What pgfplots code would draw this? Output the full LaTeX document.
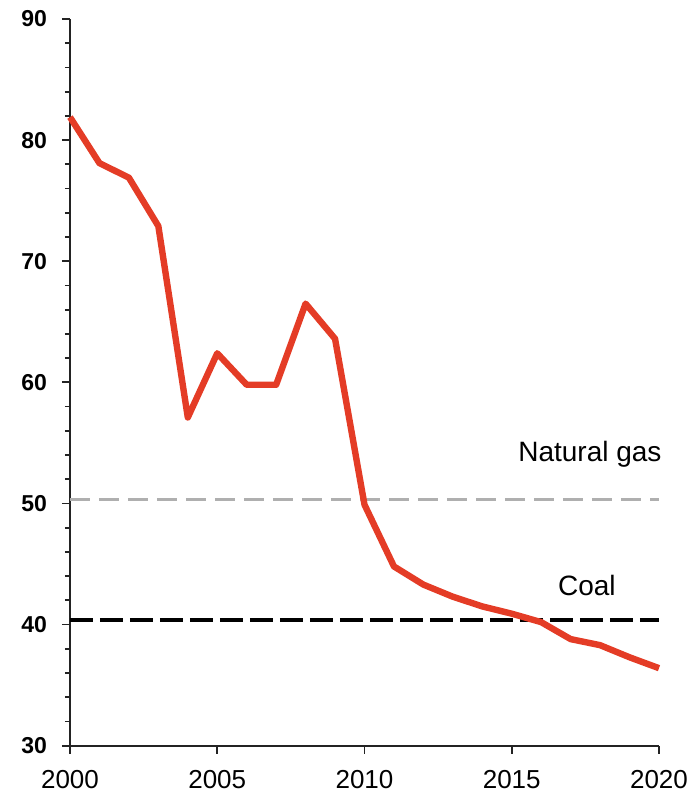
\documentclass[border=0pt]{standalone}
\usepackage{fontspec}
\setmainfont{Liberation Sans}
\usepackage{pgfplots}
\pgfplotsset{compat=1.18}
\definecolor{linered}{RGB}{228,60,38}
\definecolor{gasgray}{RGB}{175,175,175}
\definecolor{axgray}{RGB}{35,35,35}
\begin{document}
\begin{tikzpicture}
\begin{axis}[
  scale only axis,
  width=294.5pt, height=363.35pt,
  xmin=2000, xmax=2020, ymin=30, ymax=90,
  axis lines*=left,
  axis line style={axgray, line width=1pt},
  xtick={2000,2005,2010,2015,2020},
  ytick={30,40,50,60,70,80,90},
  minor y tick num=4,
  tick align=outside,
  tick style={axgray, line width=0.9pt},
  major tick length=4pt,
  minor tick length=2.5pt,
  /pgf/number format/assume math mode=true,
  /pgf/number format/1000 sep={},
  xticklabel style={font=\fontsize{13}{13}\selectfont, yshift=-5pt},
  yticklabel style={font=\fontsize{11.5}{11.5}\selectfont\bfseries, xshift=-4pt},
  clip=false,
]
\addplot[gasgray, line width=1.5pt, dash pattern=on 10pt off 4.5pt] coordinates {(2000,50.3) (2020,50.3)};
\addplot[black, line width=2.2pt, dash pattern=on 11.5pt off 3.5pt] coordinates {(2000,40.4) (2020,40.4)};
\addplot[linered, line width=3.2pt, line join=round] coordinates {
  (2000,81.9) (2001,78.1) (2002,76.9) (2003,72.9) (2004,57.1)
  (2005,62.4) (2006,59.8) (2007,59.8) (2008,66.5) (2009,63.6)
  (2010,49.9) (2011,44.8) (2012,43.3) (2013,42.3) (2014,41.5)
  (2015,40.9) (2016,40.2) (2017,38.8) (2018,38.3) (2019,37.3)
  (2020,36.4)
};
\node[anchor=base east, font=\fontsize{14}{14}\selectfont, inner sep=0pt] at (axis cs:2020.1,53.45) {Natural gas};
\node[anchor=base, font=\fontsize{14}{14}\selectfont, inner sep=0pt] at (axis cs:2017.55,42.44) {Coal};
\end{axis}
\pgfresetboundingbox
\path[use as bounding box] (-35pt,-27.15pt) rectangle (310pt,372.85pt);
\end{tikzpicture}
\end{document}
